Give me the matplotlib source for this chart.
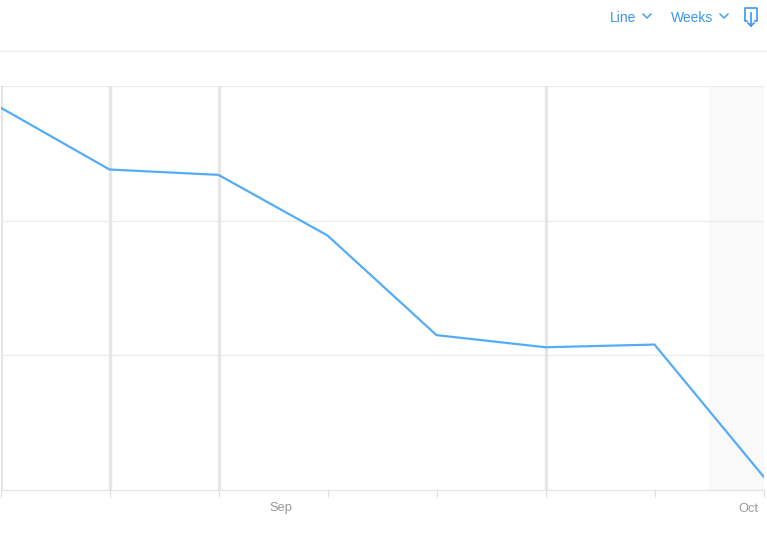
import matplotlib
matplotlib.use('agg')
import matplotlib.pyplot as plt
from matplotlib.lines import Line2D
import pandas as pd

weeks = pd.date_range('2017-08-14', periods=8, freq='7D')
values = [2.84, 2.38, 2.34, 1.89, 1.15, 1.06, 1.08, 0.10]
marker_weeks = [0, 1, 2, 5]
month_ticks = pd.to_datetime(['2017-09-01', '2017-10-01'])
month_labels = ['Sep', 'Oct']
menu_labels = ['Line', 'Weeks']

plt.rcParams['font.family'] = ['Liberation Sans', 'DejaVu Sans']

blue = '#3a96f2'
line_blue = '#55acf6'
grid = '#ececec'

fig = plt.figure(figsize=(7.67, 5.43), dpi=100)
W, H = 767, 543
ax = fig.add_axes([0.5 / W, 1 - 490 / H, 763 / W, 404 / H])

ax.plot(weeks, values, color=line_blue, lw=1.6, zorder=3, solid_joinstyle='miter')

# partial week shading
ax.axvspan(weeks[-1] - pd.Timedelta(days=3.5), weeks[-1], color='#f9f9f9', zorder=0, lw=0)

for i in marker_weeks:
    ax.axvline(weeks[i], color='#e6e6e6', lw=2.4, zorder=1)

ax.set_xlim(weeks[0], weeks[-1])
ax.set_ylim(0, 3)
ax.set_yticks([1, 2, 3])
ax.yaxis.grid(True, color=grid, lw=0.9)
ax.tick_params(axis='y', length=0, labelleft=False)

ax.set_xticks(weeks)
ax.set_xticklabels([''] * len(weeks))
ax.tick_params(axis='x', which='major', length=5, color='#dddddd', width=0.8)
ax.set_xticks(month_ticks, minor=True)
ax.tick_params(axis='x', which='minor', length=0, pad=9, labelsize=9.3, labelcolor='#999999')
ax.xaxis.set_minor_formatter(matplotlib.ticker.FixedFormatter(month_labels))

for s in ['left', 'right', 'top']:
    ax.spines[s].set_visible(False)
ax.spines['bottom'].set_color('#e4e4e4')
ax.spines['bottom'].set_linewidth(0.9)
ax.set_facecolor('none')
ax.set_axisbelow(True)

# header separator
fig.add_artist(Line2D([0, 1], [1 - 51 / H, 1 - 51 / H], color=grid, lw=0.9))

# header controls
def chevron(xc, yc):
    fig.add_artist(Line2D([(xc - 4) / W, xc / W, (xc + 4) / W],
                          [1 - (yc - 2) / H, 1 - (yc + 2) / H, 1 - (yc - 2) / H],
                          color=blue, lw=1.0))

fig.text(610 / W, 1 - 17.5 / H, menu_labels[0], color=blue, fontsize=10, va='center', ha='left')
chevron(647, 16)
fig.text(671 / W, 1 - 17.5 / H, menu_labels[1], color=blue, fontsize=10, va='center', ha='left')
chevron(724, 16)

# download icon
fig.add_artist(Line2D([747 / W, 745 / W, 745 / W, 757 / W, 757 / W, 755 / W],
                      [1 - 21 / H, 1 - 21 / H, 1 - 8 / H, 1 - 8 / H, 1 - 21 / H, 1 - 21 / H],
                      color=blue, lw=1.2))
fig.add_artist(Line2D([751 / W, 751 / W], [1 - 13 / H, 1 - 26 / H], color=blue, lw=1.2))
fig.add_artist(Line2D([748 / W, 751 / W, 754 / W], [1 - 23 / H, 1 - 26 / H, 1 - 23 / H],
                      color=blue, lw=1.2))

fig.savefig('out.png', dpi=100)
